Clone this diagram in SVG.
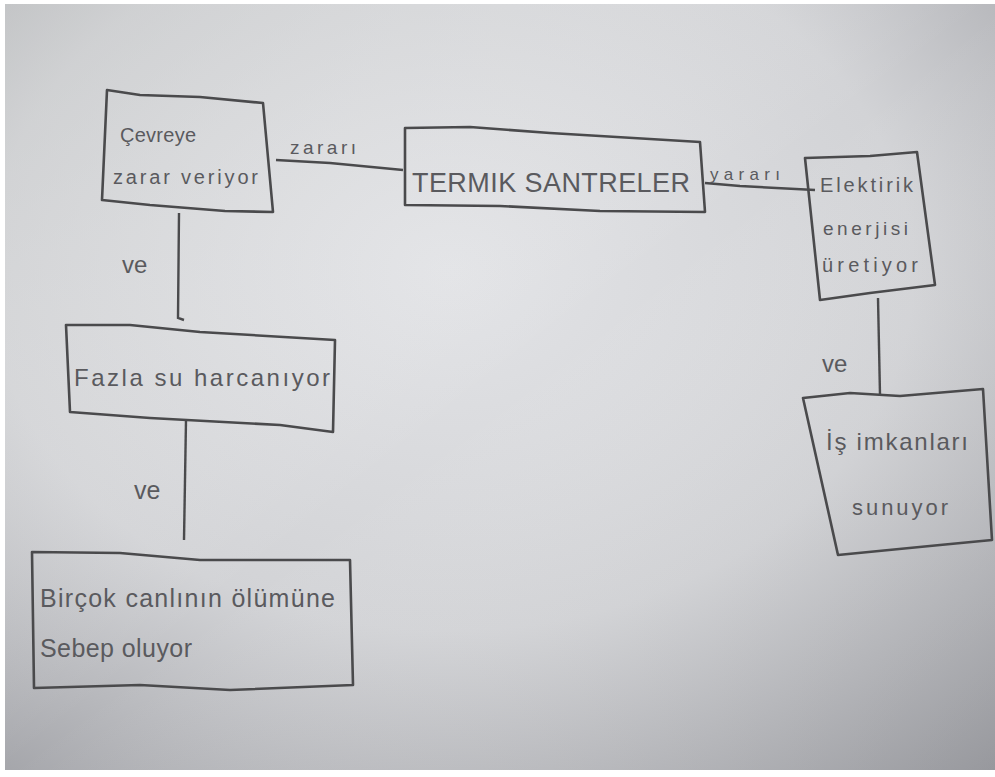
<svg xmlns="http://www.w3.org/2000/svg" width="995" height="777" viewBox="0 0 995 777">
<defs>
<radialGradient id="paper" cx="0.45" cy="0.35" r="0.85">
<stop offset="0" stop-color="#e2e3e6"/>
<stop offset="0.55" stop-color="#d2d3d6"/>
<stop offset="1" stop-color="#9d9ea3"/>
</radialGradient>
<linearGradient id="shade" x1="0" y1="0" x2="1" y2="1">
<stop offset="0" stop-color="#c4c6c6" stop-opacity="0.5"/>
<stop offset="0.5" stop-color="#ffffff" stop-opacity="0"/>
<stop offset="1" stop-color="#8f9095" stop-opacity="0.4"/>
</linearGradient>
</defs>
<style>
.box{fill:none;stroke:#4a4a4c;stroke-width:2.6;stroke-linejoin:round}
.line{fill:none;stroke:#4a4a4c;stroke-width:2.4}
.t{font-family:"Liberation Sans","DejaVu Sans",sans-serif;fill:#5a5a5e}
</style>
<rect width="995" height="777" fill="#ffffff"/>
<rect x="5" y="4" width="990" height="766" fill="url(#paper)"/>
<rect x="5" y="4" width="990" height="766" fill="url(#shade)"/>

<g id="connectors">
<path class="line" d="M276,160 L330,163 L403,170"/>
<text class="t" x="290" y="154" font-size="19" textLength="66">zararı</text>
<path class="line" d="M705,183 L740,186 L815,190"/>
<text class="t" x="710" y="180" font-size="17" textLength="70">yararı</text>
<path class="line" d="M878,298 L880,395"/>
<text class="t" x="822" y="372" font-size="24">ve</text>
<path class="line" d="M179,213 L178,318 L184,320"/>
<text class="t" x="122" y="273" font-size="24">ve</text>
<path class="line" d="M186,420 L184,540"/>
<text class="t" x="134" y="499" font-size="25">ve</text>
</g>

<g id="n-cevreye">
<path class="box" d="M107,90 L140,95 L200,97 L263,103 L273,212 L225,211 L150,205 L102,200 Z"/>
<text class="t" x="120" y="142" font-size="20" textLength="76">Çevreye</text>
<text class="t" x="113" y="184" font-size="20" textLength="145">zarar veriyor</text>
</g>

<g id="n-termik">
<path class="box" d="M405,128 L470,127 L550,133 L700,142 L705,212 L600,211 L500,206 L405,205 Z"/>
<text class="t" x="412" y="192" font-size="27" textLength="278">TERMIK SANTRELER</text>
</g>

<g id="n-elektrik">
<path class="box" d="M805,158 L870,156 L917,152 L935,285 L870,293 L820,300 Z"/>
<text class="t" x="820" y="192" font-size="20" textLength="93">Elektirik</text>
<text class="t" x="823" y="235" font-size="19" textLength="85">enerjisi</text>
<text class="t" x="822" y="272" font-size="20" textLength="96">üretiyor</text>
</g>

<g id="n-is">
<path class="box" d="M803,398 L850,393 L900,396 L983,389 L992,540 L940,545 L838,555 Z"/>
<text class="t" x="826" y="450" font-size="24" textLength="142">İş imkanları</text>
<text class="t" x="852" y="515" font-size="22" textLength="96">sunuyor</text>
</g>

<g id="n-fazla">
<path class="box" d="M66,325 L130,325 L200,332 L335,340 L333,432 L280,425 L150,418 L70,412 Z"/>
<text class="t" x="74" y="386" font-size="24" textLength="256">Fazla su harcanıyor</text>
</g>

<g id="n-bircok">
<path class="box" d="M32,552 L120,553 L200,560 L350,560 L353,685 L230,690 L140,685 L34,688 Z"/>
<text class="t" x="40" y="607" font-size="25" textLength="295">Birçok canlının ölümüne</text>
<text class="t" x="40" y="657" font-size="25" textLength="152">Sebep oluyor</text>
</g>
</svg>
